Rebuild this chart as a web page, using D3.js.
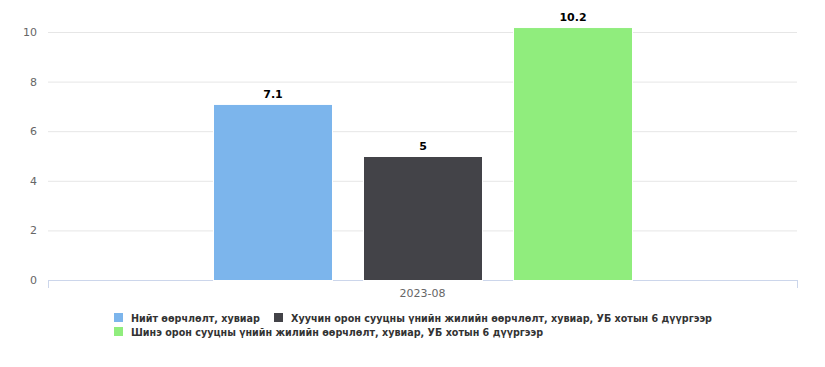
<!DOCTYPE html>
<html><head><meta charset="utf-8">
<script src="https://cdn.jsdelivr.net/npm/d3@7"></script>
<style>body{margin:0;background:#fff;font-family:"Verdana","DejaVu Sans",sans-serif}</style>
</head><body><svg id="c" width="825" height="367"></svg>
<script>
const categories = ["2023-08"];
const seriesNames = ["Нийт өөрчлөлт, хувиар","Хуучин орон сууцны үнийн жилийн өөрчлөлт, хувиар, УБ хотын 6 дүүргээр","Шинэ орон сууцны үнийн жилийн өөрчлөлт, хувиар, УБ хотын 6 дүүргээр"];
const seriesValues = [7.1, 5, 10.2];
const seriesColors = ["#7cb5ec","#434348","#90ed7d"];
const yTicks = [0,2,4,6,8,10];

(function(){
const svg = d3.select("#c");
const pl = 48, pr = 797, pt = 32, pb = 280;
const y = d3.scaleLinear().domain([0,10]).range([pb, pt]);
const x0 = d3.scaleBand().domain(categories).range([pl, pr]);
const x1 = d3.scaleBand().domain(seriesNames).range([213, 633]).paddingInner(0.2).paddingOuter(0);

svg.append("g").selectAll("line").data(yTicks.filter(d=>d>0)).join("line")
  .attr("x1", pl).attr("x2", pr).attr("y1", d=>y(d)+0.5).attr("y2", d=>y(d)+0.5)
  .attr("stroke", "#e6e6e6").attr("stroke-width", 1);
svg.append("g").selectAll("text").data(yTicks).join("text")
  .attr("x", 37).attr("y", d=>y(d)+4).attr("text-anchor","end")
  .attr("font-size", 11).attr("fill", "#666").attr("font-family","DejaVu Sans, sans-serif").text(d=>d);
const xa = svg.append("g").attr("transform", `translate(0,${pb})`)
  .call(d3.axisBottom(x0).tickSize(0).tickSizeOuter(0));
xa.select(".domain").remove();
xa.selectAll("text").attr("font-size", 11).attr("fill","#666").attr("dy", "1.25em").attr("font-family","DejaVu Sans, sans-serif");
svg.append("line").attr("x1", pl).attr("x2", pr).attr("y1", pb+0.5).attr("y2", pb+0.5).attr("stroke","#ccd6eb");
[pl, pr].forEach(t => svg.append("line").attr("x1", t+0.5).attr("x2", t+0.5).attr("y1", pb).attr("y2", pb+8).attr("stroke","#ccd6eb"));

const bars = svg.append("g").selectAll("g").data(seriesNames.map((n,i)=>({n, v: seriesValues[i], c: seriesColors[i]}))).join("g");
bars.append("rect").attr("x", d=>x1(d.n)+0.5).attr("y", d=>y(d.v)+0.5)
  .attr("width", x1.bandwidth()-1).attr("height", d=>pb - y(d.v))
  .attr("fill", d=>d.c).attr("stroke","#fff").attr("stroke-width",1);
bars.append("text").attr("x", d=>x1(d.n)+x1.bandwidth()/2).attr("y", d=>y(d.v)-6)
  .attr("text-anchor","middle").attr("font-size",11).attr("font-weight","bold").attr("fill","#000")
  .style("paint-order","stroke").attr("stroke","#fff").attr("stroke-width",2)
  .text(d=>d.v);

const leg = [{i:0,x:114,y:313},{i:1,x:274,y:313},{i:2,x:114,y:327}];
const lg = svg.append("g").attr("font-family","Verdana, DejaVu Sans, sans-serif");
leg.forEach(l => {
  lg.append("rect").attr("x", l.x).attr("y", l.y).attr("width", 9).attr("height", 9).attr("fill", seriesColors[l.i]);
  lg.append("text").attr("x", l.x+17).attr("y", l.y+8.5).attr("font-size", 9.6).attr("font-weight","bold").attr("fill","#333").text(seriesNames[l.i]);
});
})();
</script></body></html>
